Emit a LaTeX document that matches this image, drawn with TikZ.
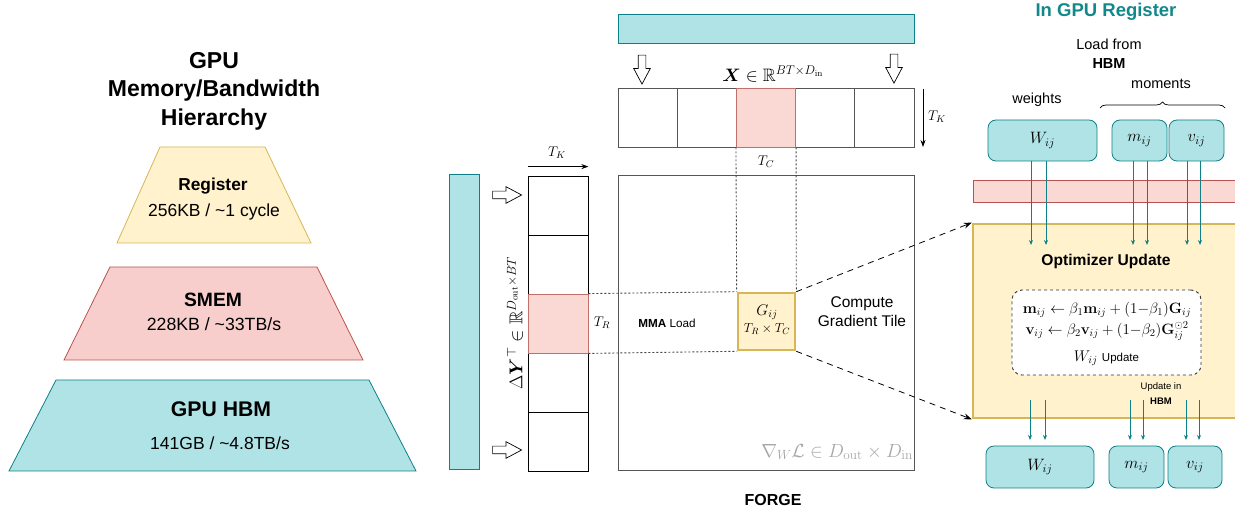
\documentclass[tikz,border=0pt]{standalone}
\usepackage{fix-cm}
\usepackage{amsmath,amssymb,bm}
\usepackage[no-math]{fontspec}
\setmainfont{Liberation Sans}
\usetikzlibrary{shapes.arrows,arrows.meta,decorations.pathreplacing}
\definecolor{tealfill}{HTML}{B0E3E6}
\definecolor{tealline}{HTML}{0E8088}
\definecolor{redfill}{HTML}{F8CECC}
\definecolor{redline}{HTML}{B85450}
\definecolor{pinkfill}{HTML}{FAD9D5}
\definecolor{pinkline}{HTML}{C0706A}
\definecolor{yelfill}{HTML}{FFF2CC}
\definecolor{yelline}{HTML}{D6B656}
\definecolor{gridline}{HTML}{555555}
\definecolor{titleteal}{HTML}{13888A}
\newcommand{\fs}[2]{\fontsize{#1}{#2}\selectfont}
\begin{document}
\begin{tikzpicture}[x=1pt,y=-1pt,
  txt/.style={inner sep=0pt, align=center},
  tealbox/.style={draw=tealline, fill=tealfill, line width=0.8pt},
  regbox/.style={draw=tealline, fill=tealfill, line width=0.8pt, rounded corners=8pt, minimum height=41pt, inner sep=0pt, font=\fs{16.5}{19}},
  hollow/.style={shape=single arrow, draw=black, fill=white, line width=0.7pt, inner sep=3.5pt, minimum height=29pt, single arrow head extend=4.5pt, single arrow tip angle=56},
  xcell/.style={draw=gridline, line width=0.9pt, minimum width=59.2pt, minimum height=59pt, inner sep=0pt},
  ycell/.style={draw=black, line width=0.8pt, minimum width=60pt, minimum height=59pt, inner sep=0pt},
  hicell/.style={fill=pinkfill, draw=pinkline},
  dotline/.style={draw=black!75, line width=0.9pt, dash pattern=on 2pt off 2pt},
  tarrow/.style={draw=tealline, line width=0.8pt, -{Stealth[length=5pt,width=4pt]}},
  blkarrow/.style={draw=black, line width=0.8pt, -{Stealth[length=7pt,width=5pt]}},
]
\useasboundingbox (0,0) rectangle (1235,510);

% ---------------- pyramid ----------------
\node[txt, font=\fs{23}{28.5}\bfseries] (title) at (214,91) {GPU\\Memory/Bandwidth\\Hierarchy};
\draw[fill=yelfill, draw=yelline, line width=0.8pt] (160,147) -- (265,147) -- (311,243) -- (117,243) -- cycle;
\node[txt, font=\fs{17.3}{20}\bfseries] (regT) at (213,186) {Register};
\node[txt, font=\fs{17.5}{20}] (regS) at (214,212) {256KB / \textasciitilde1 cycle};
\draw[fill=redfill, draw=redline, line width=0.8pt] (110,267) -- (317,267) -- (363,360) -- (64,360) -- cycle;
\node[txt, font=\fs{19.3}{22}\bfseries] (smT) at (213,300) {SMEM};
\node[txt, font=\fs{17.7}{20}] (smS) at (214,324) {228KB / \textasciitilde33TB/s};
\draw[fill=tealfill, draw=tealline, line width=0.8pt] (56,380) -- (369,380) -- (416,471) -- (9,471) -- cycle;
\node[txt, font=\fs{21.2}{24}\bfseries] (hbT) at (221,409) {GPU HBM};
\node[txt, font=\fs{17.5}{20}] (hbS) at (220,443) {141GB / \textasciitilde4.8TB/s};

% ---------------- middle ----------------
\draw[tealbox] (618,14) rectangle (914,43);
\node[hollow, rotate=-90] (ha1) at (642,66) {};
\node[hollow, rotate=-90] (ha2) at (894,65) {};
\node[txt, font=\fs{18}{21}] (xlab) at (773,74) {$\bm{X}\in\mathbb{R}^{BT\times D_{\mathrm{in}}}$};
\foreach \i/\cx in {1/647.6,2/706.8,3/766,4/825.2,5/884.4}
  \node[xcell] (x\i) at (\cx,117.5) {};
\node[xcell, hicell] (x3) at (766,117.5) {};
\coordinate (tka) at (923,89);
\coordinate (tkb) at (923,147);
\draw[blkarrow] (tka) -- (tkb);
\node[txt, font=\fs{14}{16}] (tklab) at (937,117) {$T_K$};
\node[txt, font=\fs{14}{16}] (tclab) at (766,162) {$T_C$};

\node[draw=gridline, line width=1pt, minimum width=296pt, minimum height=295pt, inner sep=0pt] (M) at (766,323.5) {};
\node[fill=yelfill, draw=yelline, line width=2.6pt, minimum width=57pt, minimum height=57pt, inner sep=0pt, align=center] (G) at (766.5,321.5) {};
\node[txt, font=\fs{15.5}{18}] (glab1) at (767,312) {$G_{ij}$};
\node[txt, font=\fs{13}{15}] (glab2) at (767,329) {$T_R\times T_C$};

\foreach \i/\cy in {1/205.5,2/264.5,3/323.5,4/382.5,5/441.5}
  \node[ycell] (y\i) at (558,\cy) {};
\node[ycell, hicell] (y3) at (558,323.5) {};

\draw[dotline] (x3.south west) -- (G.north west);
\draw[dotline] (x3.south east) -- (G.north east);
\draw[dotline] (y3.north east) -- (G.north west);
\draw[dotline] (y3.south east) -- (G.south west);

\draw[blkarrow] ([yshift=9pt]y1.north west) -- ([yshift=9pt]y1.north east);
\node[txt, font=\fs{14}{16}] (tk2lab) at (557,153) {$T_K$};
\node[txt, font=\fs{14}{16}] (trlab) at (602,323) {$T_R$};
\node[txt, font=\fs{18.5}{21}, rotate=90] (dylab) at (515,323) {$\Delta\bm{Y}^{\top}\in\mathbb{R}^{D_{\mathrm{out}}\times BT}$};

\draw[tealbox] (449,174) rectangle (479,469);
\node[hollow] (ha3) at (503.5,195) {};
\node[hollow] (ha4) at (503.5,450) {};

\node[txt, font=\fs{11.7}{14}] (mma) at (667,323) {\textbf{MMA} Load};
\node[txt, font=\fs{15.5}{19}] (cgt) at (862,312) {Compute\\Gradient Tile};
\node[txt, anchor=east, text=black!35, font=\fs{19}{22}] (nabla) at (913,452) {$\nabla_W\mathcal{L}\in D_{\mathrm{out}}\times D_{\mathrm{in}}$};
\node[txt, font=\fs{16}{19}\bfseries] (forge) at (773,500) {FORGE};

% ---------------- right ----------------
\node[txt, font=\fs{18.5}{21}\bfseries, text=titleteal] (inreg) at (1106,12) {In GPU Register};
\node[txt, font=\fs{14.5}{19}] (loadfrom) at (1109,54) {Load from\\\textbf{HBM}};
\node[txt, font=\fs{14.5}{17}] (moments) at (1161,84) {moments};
\node[txt, font=\fs{14.5}{17}] (weights) at (1037,100) {weights};
\coordinate (brL) at (1100,108);
\coordinate (brR) at (1225,108);
\draw[line width=0.7pt, decorate, decoration={brace, amplitude=6pt}] (brL) -- (brR);

\node[regbox, minimum width=109pt] (W1) at (1042.5,140.5) {$W_{ij}$};
\node[regbox, minimum width=55pt] (m1) at (1139.5,140.5) {$m_{ij}$};
\node[regbox, minimum width=55pt] (v1) at (1196.5,140.5) {$v_{ij}$};

\draw[fill=pinkfill, draw=redline, line width=0.8pt] (973,180) rectangle (1245,202);
\node[fill=yelfill, draw=yelline, line width=2.6pt, minimum width=272pt, minimum height=194pt, inner sep=0pt] (O) at (1109,321) {};

\draw[tarrow] (1031,0 |- W1.south) -- (1031,245);
\draw[tarrow] (1046,0 |- W1.south) -- (1046,245);
\draw[tarrow] (1133,0 |- m1.south) -- (1133,245);
\draw[tarrow] (1147,0 |- m1.south) -- (1147,245);
\draw[tarrow] (1187,0 |- v1.south) -- (1187,245);
\draw[tarrow] (1200,0 |- v1.south) -- (1200,245);

\node[txt, font=\fs{15.6}{19}\bfseries] (optT) at (1106,261) {Optimizer Update};
\node[draw=black!80, dashed, line width=0.9pt, fill=white, rounded corners=10pt, minimum width=189pt, minimum height=85pt, inner sep=0pt] (D) at (1106.5,332.5) {};
\node[txt, font=\fs{15}{20}] (eq1) at (1107,310) {$\mathbf{m}_{ij}\leftarrow\beta_1\mathbf{m}_{ij}+(1{-}\beta_1)\mathbf{G}_{ij}$};
\node[txt, font=\fs{15}{20}] (eq2) at (1107,331) {$\mathbf{v}_{ij}\leftarrow\beta_2\mathbf{v}_{ij}+(1{-}\beta_2)\mathbf{G}_{ij}^{\odot 2}$};
\node[txt, font=\fs{15.5}{20}] (eq3) at (1106.5,358) {$W_{ij}$ {\fs{11.5}{14}Update}};
\node[txt, font=\fs{9.5}{15}] (updhbm) at (1161,394) {Update in\\\textbf{HBM}};

\node[regbox, minimum width=108pt, minimum height=42pt] (W2) at (1040,467) {$W_{ij}$};
\node[regbox, minimum width=55pt, minimum height=42pt] (m2) at (1136.5,467) {$m_{ij}$};
\node[regbox, minimum width=54pt, minimum height=42pt] (v2) at (1195,467) {$v_{ij}$};

\draw[tarrow] (1030,400) -- (1030,440);
\draw[tarrow] (1045,400) -- (1045,440);
\draw[tarrow] (1130,400) -- (1130,440);
\draw[tarrow] (1143,400) -- (1143,440);
\draw[tarrow] (1186,400) -- (1186,440);
\draw[tarrow] (1199,400) -- (1199,440);

\draw[dashed, line width=0.8pt, dash pattern=on 6pt off 5pt, -{Stealth[length=8pt,width=6pt]}] (G.north east) -- (O.north west);
\draw[dashed, line width=0.8pt, dash pattern=on 6pt off 5pt, -{Stealth[length=8pt,width=6pt]}] (G.south east) -- (O.south west);
\end{tikzpicture}
\end{document}
